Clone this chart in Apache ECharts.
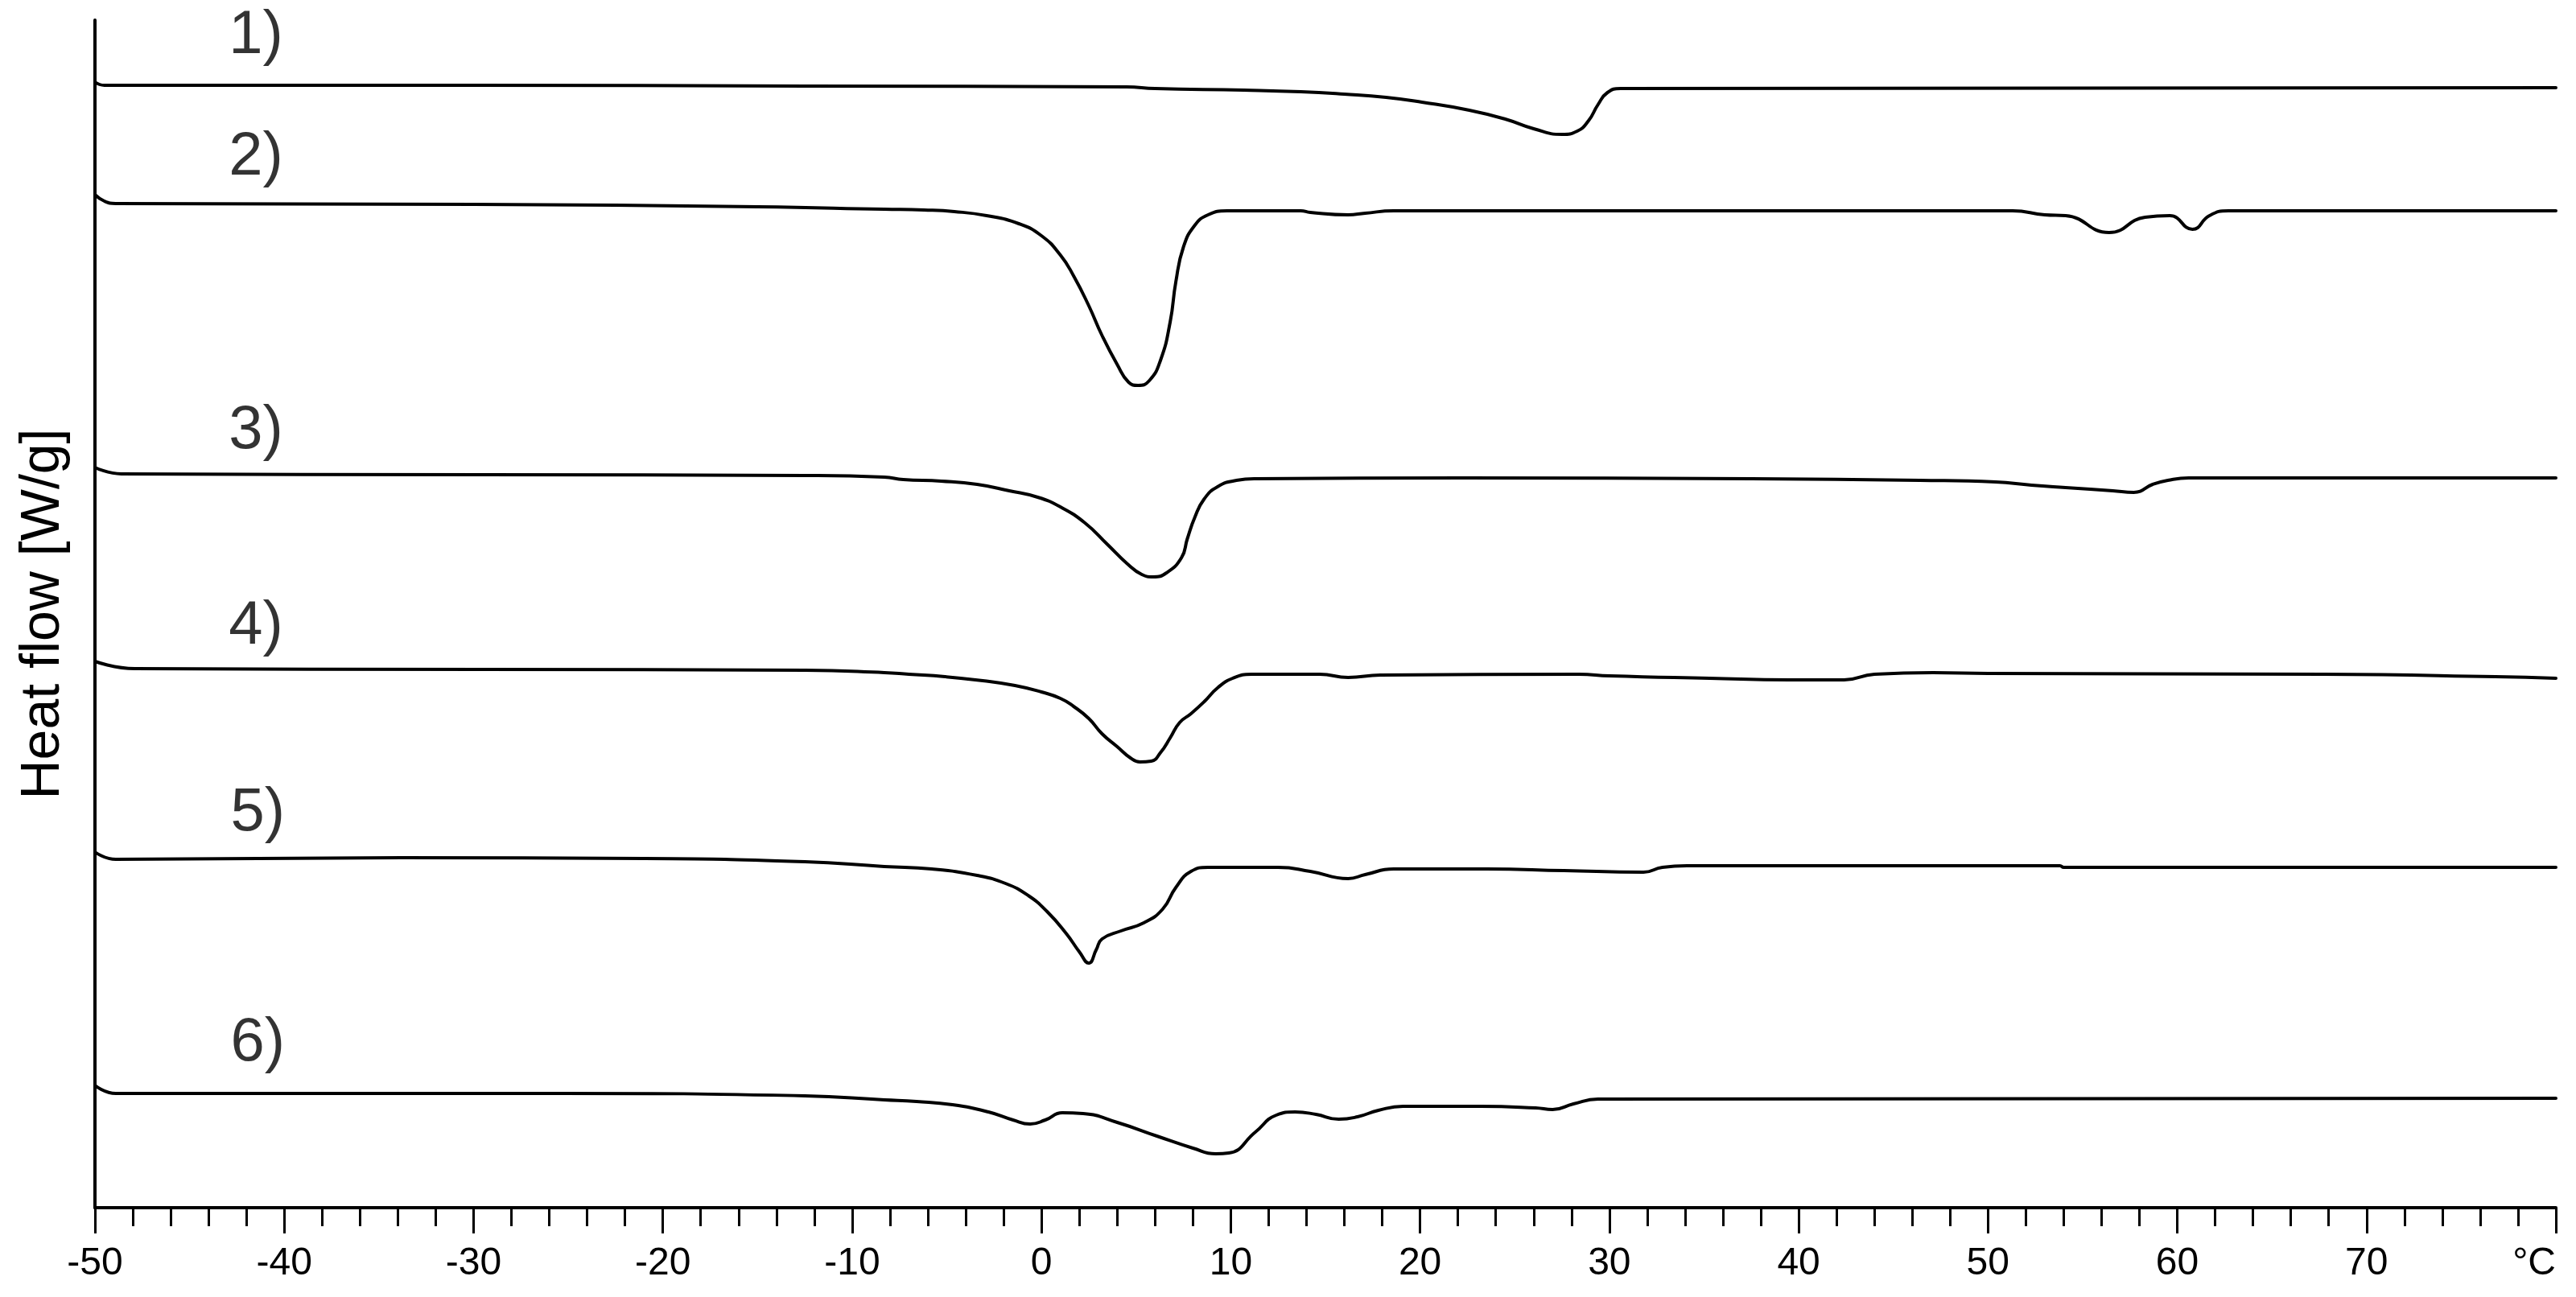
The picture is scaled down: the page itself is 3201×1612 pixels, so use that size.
<!DOCTYPE html>
<html>
<head>
<meta charset="utf-8">
<script src="https://cdn.jsdelivr.net/npm/echarts@6/dist/echarts.min.js"></script>
<style>
  html, body { margin: 0; padding: 0; background: #fff; }
  #chart { width: 3201px; height: 1612px; }
</style>
</head>
<body>
<div id="chart"></div>
<script>
// Temperature axis (°C)
const xMin = -50, xMax = 80, xStep = 10;
const unitLabel = '°C';
const yName = 'Heat flow [W/g]';

// Curves: [temperature °C, heat flow (arbitrary offset units)]
const curve1 = [[-50,139.9],[-49.5,139.5],[-30,139.5],[-12.5,139.4],[4.5,139.3],[6,139.1],[10.7,138.9],[13.7,138.7],[16,138.4],[18.2,138.0],[20.1,137.4],[22.6,136.4],[24.5,135.3],[26,134.1],[27.5,133.4],[28.3,133.8],[28.9,135.1],[29.4,137.1],[29.9,138.6],[30.6,139.1],[80,139.2]];
const curve2 = [[-50,125.9],[-49.5,125.1],[-48.9,124.8],[-30,124.7],[-15,124.4],[-8.3,124.1],[-6.2,124.0],[-4.6,123.8],[-2.9,123.3],[-1.2,122.3],[0,120.8],[1,118.4],[1.7,115.8],[2.5,112.1],[3.2,108.4],[4,104.8],[4.6,102.6],[5.1,102.2],[5.7,102.8],[6.3,105.4],[6.8,110.1],[7.1,115.1],[7.5,119.4],[8.1,122.1],[8.8,123.4],[9.8,123.9],[13.7,123.9],[14.2,123.7],[16.2,123.4],[17.1,123.6],[18.6,123.9],[51.3,123.9],[53,123.4],[54.1,123.3],[56.4,121.2],[58.3,123.1],[59.6,123.3],[60.8,121.6],[61.7,123.3],[62.7,123.9],[80,123.9]];
const curve3 = [[-50,92.0],[-48.6,91.2],[-29.5,91.1],[-12.5,91.0],[-8.3,90.8],[-7.3,90.5],[-5.3,90.3],[-3.4,89.9],[-1.7,89.1],[-0.2,88.3],[1,87.1],[2.3,85.1],[3.5,82.4],[4.5,80.1],[5.3,78.7],[5.9,78.4],[6.6,78.9],[7.4,80.8],[7.7,83.1],[8.1,85.8],[8.6,88.1],[9.3,89.6],[10.3,90.4],[11.3,90.6],[22.2,90.7],[37.5,90.6],[46.4,90.4],[50.4,90.2],[52.3,89.8],[54.1,89.5],[55.4,89.3],[56.6,89.1],[57.7,88.9],[58.7,89.9],[59.5,90.4],[60.6,90.7],[80,90.7]];
const curve4 = [[-50,67.9],[-47.9,67.0],[-29.5,66.9],[-12.5,66.8],[-8.3,66.5],[-7,66.3],[-5.1,66.0],[-3.1,65.5],[-1.4,64.9],[0,64.1],[1,63.3],[1.7,62.3],[2.5,60.8],[3.2,58.9],[4,57.3],[4.7,55.9],[5.2,55.4],[5.8,55.5],[6.3,56.6],[6.8,58.4],[7.3,60.3],[7.9,61.4],[8.6,62.9],[9.3,64.6],[10.1,65.8],[11.1,66.3],[14.7,66.3],[16.2,65.9],[17.9,66.2],[28.4,66.3],[30,66.1],[35.3,65.8],[39.5,65.6],[42.4,65.6],[44,66.3],[47.1,66.5],[50,66.4],[67.7,66.3],[76.8,66.0],[80,65.8]];
const curve5 = [[-50,44.2],[-48.9,43.3],[-33.8,43.5],[-21,43.4],[-12.5,43.0],[-8.3,42.4],[-5.8,42.1],[-3.4,41.3],[-1.9,40.3],[-0.7,38.8],[0.3,36.8],[1.3,34.1],[2,31.8],[2.5,30.4],[2.9,32.1],[3.2,33.4],[4.2,34.4],[5.4,35.4],[6.4,37.1],[7.1,39.8],[7.9,41.8],[8.8,42.3],[12.5,42.3],[14.2,41.8],[16.2,40.9],[17.1,41.4],[18.6,42.1],[23.5,42.1],[27.6,41.9],[31.8,41.7],[32.8,42.3],[34.1,42.5],[53.8,42.5],[54,42.3],[80,42.3]];
const curve6 = [[-50,15.2],[-48.9,14.2],[-25.3,14.2],[-12.5,13.9],[-8.3,13.4],[-6.6,13.2],[-4.7,12.8],[-2.8,11.9],[-1.5,10.9],[-0.6,10.4],[0.2,10.9],[1.1,11.8],[2.2,11.7],[4,10.6],[6.1,8.9],[8,7.4],[9.2,6.7],[9.9,6.8],[11.3,9.4],[12.4,11.5],[13.4,11.9],[14.5,11.6],[15.7,11.0],[16.7,11.3],[17.8,12.1],[19.1,12.6],[23.2,12.6],[26.1,12.4],[27,12.2],[28.1,12.9],[29.4,13.5],[80,13.6]];

// Curve labels
const curveNames = ['1)', '2)', '3)', '4)', '5)', '6)'];
const curveLabelX = [-41.5, -41.5, -41.5, -41.5, -41.4, -41.4];
const curveLabelY = [145.6, 130.5, 96.5, 72.2, 49.0, 20.4];

const curves = [curve1, curve2, curve3, curve4, curve5, curve6];
const FONT = "'Liberation Sans', Arial, sans-serif";

const chart = echarts.init(document.getElementById('chart'), null, { renderer: 'canvas' });

const series = curves.map((c, i) => ({
  name: curveNames[i],
  type: 'line',
  data: c,
  showSymbol: false,
  smooth: 0.5,
  sampling: null,
  lineStyle: { color: '#000', width: 4, join: 'round', cap: 'round' },
  animation: false,
  z: 3
}));

series.push({
  type: 'scatter',
  data: curveNames.map((n, i) => ({ name: n, value: [curveLabelX[i], curveLabelY[i]] })),
  symbolSize: 1,
  itemStyle: { color: 'rgba(0,0,0,0)' },
  label: {
    show: true,
    position: 'inside',
    formatter: p => p.name,
    color: '#000',
    fontSize: 76,
    fontFamily: FONT
  },
  animation: false,
  silent: true
});

chart.setOption({
  backgroundColor: '#fff',
  animation: false,
  grid: { left: 118, right: 25, top: 25, bottom: 111, containLabel: false },
  xAxis: {
    type: 'value',
    min: xMin,
    max: xMax,
    interval: xStep,
    axisLine: { show: true, onZero: false, lineStyle: { color: '#000', width: 4 } },
    axisTick: { show: true, length: 32, lineStyle: { color: '#000', width: 3 } },
    minorTick: { show: true, splitNumber: 5, length: 23, lineStyle: { color: '#000', width: 3 } },
    splitLine: { show: false },
    minorSplitLine: { show: false },
    axisLabel: {
      show: true,
      color: '#000',
      fontSize: 48,
      fontFamily: FONT,
      margin: 46,
      showMinLabel: true,
      showMaxLabel: true,
      alignMaxLabel: 'right',
      formatter: v => (v === xMax ? unitLabel : String(v))
    }
  },
  yAxis: {
    type: 'value',
    min: 0,
    max: 147.6,
    name: yName,
    nameLocation: 'middle',
    nameGap: 30,
    nameTextStyle: { color: '#000', fontSize: 68, fontFamily: FONT },
    axisLine: { show: true, onZero: false, lineStyle: { color: '#000', width: 4 } },
    axisTick: { show: false },
    axisLabel: { show: false },
    splitLine: { show: false }
  },
  series: series
});
</script>
</body>
</html>
